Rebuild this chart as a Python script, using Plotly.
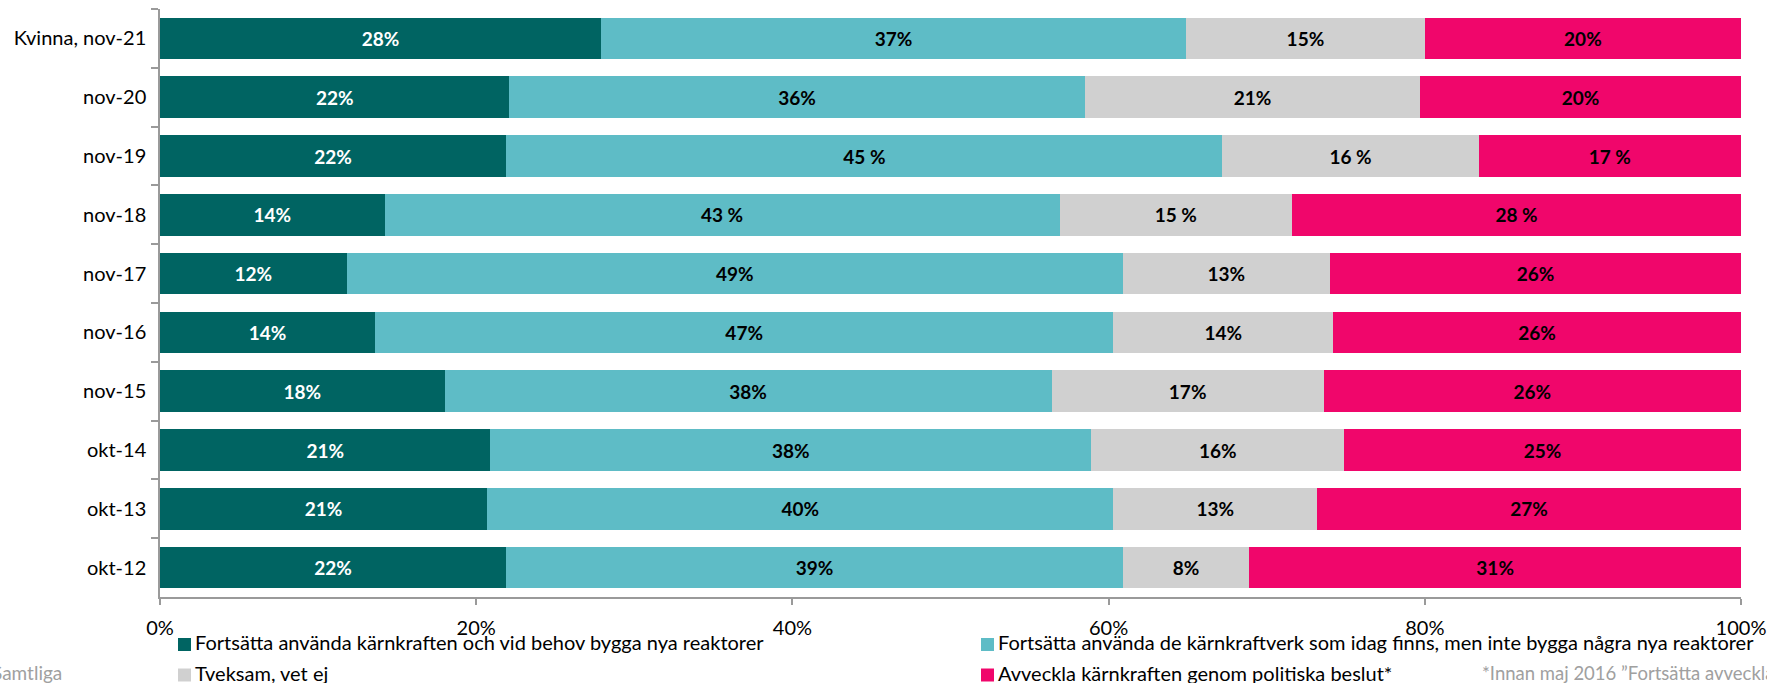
import plotly.graph_objects as go

categories = ["Kvinna, nov-21", "nov-20", "nov-19", "nov-18", "nov-17",
              "nov-16", "nov-15", "okt-14", "okt-13", "okt-12"]
# separator between number and % sign in the bar labels of the 2nd-4th series
label_sep = ["", "", " ", " ", "", "", "", "", "", ""]

series_names = [
    "Fortsätta använda kärnkraften och vid behov bygga nya reaktorer",
    "Fortsätta använda de kärnkraftverk som idag finns, men inte bygga några nya reaktorer",
    "Tveksam, vet ej",
    "Avveckla kärnkraften genom politiska beslut*",
]
bygga_nya = [27.9, 22.1, 21.9, 14.2, 11.8, 13.6, 18.0, 20.9, 20.7, 21.9]
inte_bygga = [37.0, 36.4, 45.3, 42.7, 49.1, 46.7, 38.4, 38.0, 39.6, 39.0]
tveksam = [15.1, 21.2, 16.2, 14.7, 13.1, 13.9, 17.2, 16.0, 12.9, 8.0]
avveckla = [20.0, 20.3, 16.6, 28.4, 26.0, 25.8, 26.4, 25.1, 26.8, 31.1]

x_ticks = [0, 20, 40, 60, 80, 100]

colors = ["#006462", "#5EBCC6", "#D0D0D0", "#F0066B"]
text_colors = ["#FFFFFF", "#000000", "#000000", "#000000"]

FONT = "Lato, 'Open Sans', sans-serif"

fig = go.Figure()
for i, (name, vals, col, tcol) in enumerate(zip(series_names, [bygga_nya, inte_bygga, tveksam, avveckla],
                                                colors, text_colors)):
    seps = [""] * len(vals) if i == 0 else label_sep
    labels = [f"{int(round(v))}{s}%" for v, s in zip(vals, seps)]
    fig.add_trace(go.Bar(
        y=categories, x=vals, name=name, orientation="h",
        marker=dict(color=col, line=dict(width=0)),
        text=labels, textposition="inside", insidetextanchor="middle",
        textangle=0, constraintext="none",
        textfont=dict(family=FONT, size=19, color=tcol, weight="bold"),
        hoverinfo="skip", showlegend=False,
    ))

W, H = 1767, 683
L, R, T, B = 160, 26, 9, 86
pw, ph = W - L - R, H - T - B

def px_x(p):
    return (p - L) / pw

def px_y(p):
    return (H - B - p) / ph

# custom legend (Excel style: square right next to the text), 2 columns x 2 rows
legend_cols = [178, 981]
legend_rows = [644.5, 675]
shapes, annotations = [], []
for i, (name, col) in enumerate(zip(series_names, colors)):
    cx = legend_cols[i % 2]
    cy = legend_rows[i // 2]
    shapes.append(dict(type="rect", xref="paper", yref="paper",
                       x0=px_x(cx), x1=px_x(cx + 13), y0=px_y(cy - 6.5), y1=px_y(cy + 6.5),
                       fillcolor=col, line=dict(width=0), layer="above"))
    annotations.append(dict(text=name, xref="paper", yref="paper", x=px_x(cx + 15), y=px_y(cy - 2.5),
                            xanchor="left", yanchor="middle", showarrow=False,
                            font=dict(family=FONT, size=20, color="#000000")))

annotations += [
    dict(text="Samtliga", xref="paper", yref="paper", x=px_x(64), y=px_y(672.5),
         xanchor="right", yanchor="middle", showarrow=False,
         font=dict(family=FONT, size=19, color="#A0A0A0")),
    dict(text="*Innan maj 2016 \u201dFortsätta avveckla kärnkraften\u201d", xref="paper", yref="paper",
         x=px_x(1480), y=px_y(672.5), xanchor="left", yanchor="middle", showarrow=False,
         font=dict(family=FONT, size=18.5, color="#A0A0A0")),
]

fig.update_layout(
    width=W, height=H, barmode="stack", bargap=0.29,
    plot_bgcolor="white", paper_bgcolor="white",
    margin=dict(l=L, r=R, t=T, b=B, autoexpand=False),
    font=dict(family=FONT, size=20, color="#000000"),
    showlegend=False,
    xaxis=dict(
        range=[0, 100], tickvals=x_ticks, ticktext=[f"{v}%" for v in x_ticks],
        showgrid=False, zeroline=False, showline=True, linecolor="#9A9A9A", linewidth=1.5,
        ticks="outside", ticklen=6, tickcolor="#9A9A9A", tickwidth=1.5,
        ticklabelstandoff=6, tickfont=dict(size=20), automargin=False,
    ),
    yaxis=dict(
        categoryorder="array", categoryarray=categories, autorange="reversed",
        showgrid=False, zeroline=False, showline=True, linecolor="#9A9A9A", linewidth=1.5,
        ticks="outside", ticklen=7, tickcolor="#9A9A9A", tickwidth=1.5,
        tickson="boundaries", ticklabelstandoff=8, tickfont=dict(size=20), automargin=False,
    ),
    shapes=shapes,
    annotations=annotations,
)

fig.write_html("out.html", config={"displayModeBar": False},
               post_script="document.body.style.margin='0';")
